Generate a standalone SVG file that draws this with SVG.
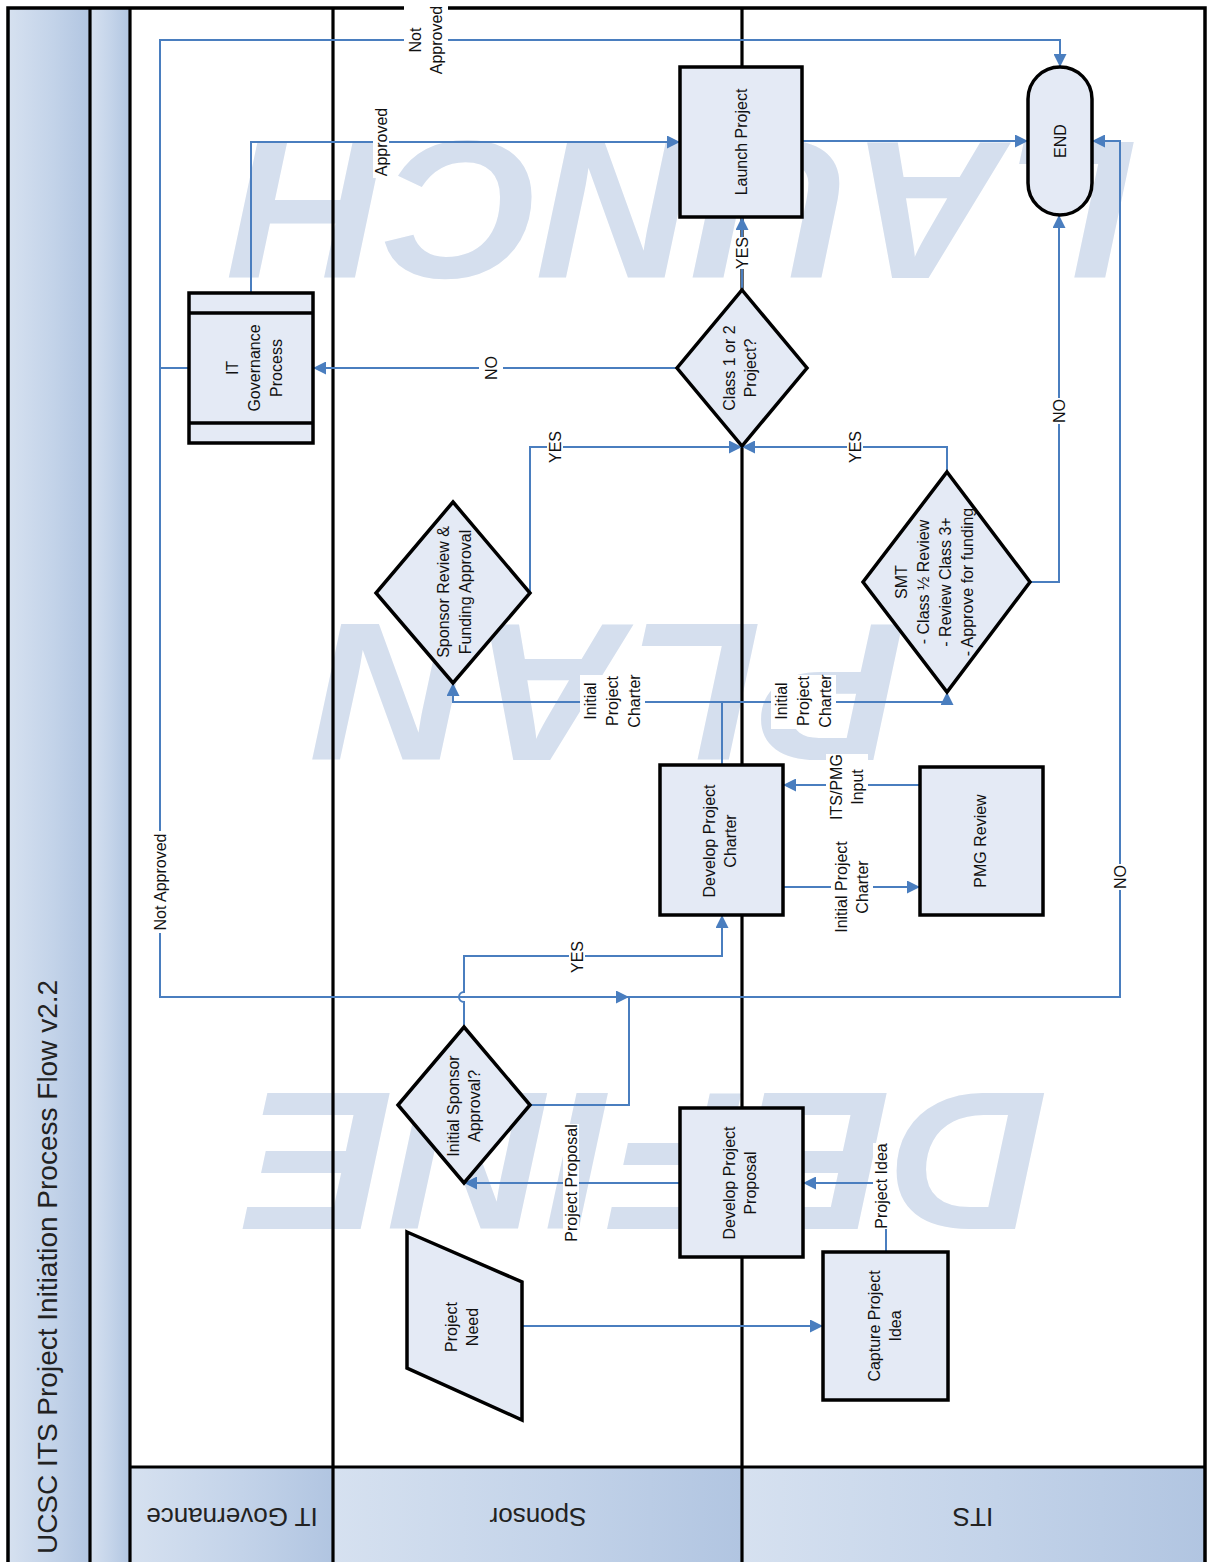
<svg xmlns="http://www.w3.org/2000/svg" width="1210" height="1562" viewBox="0 0 1210 1562">
<style>
.t{font-family:"Liberation Sans",Arial,sans-serif;font-size:16px;text-anchor:middle;fill:#111}
.lane{font-family:"Liberation Sans",Arial,sans-serif;font-size:26px;text-anchor:middle;fill:#222}
.title{font-family:"Liberation Sans",Arial,sans-serif;font-size:28px;text-anchor:middle;fill:#222}
.wm{font-family:"Liberation Sans",Arial,sans-serif;font-size:197px;font-weight:bold;font-style:italic;text-anchor:middle;fill:#d5dfee}
.node{fill:#e4eaf5;stroke:#000;stroke-width:3.5;stroke-linejoin:miter}
.frame{fill:none;stroke:#000;stroke-width:3.5}
.lline{stroke:#000;stroke-width:3.2;fill:none}
.conn{fill:none;stroke:#4a7ebf;stroke-width:2}
.bg{fill:#fff}
</style>
<defs>
<linearGradient id="gH" x1="0" y1="0" x2="1" y2="0">
<stop offset="0" stop-color="#d6e1f0"/>
<stop offset="0.55" stop-color="#c3d3e9"/>
<stop offset="1" stop-color="#b1c5e1"/>
</linearGradient>
<marker id="arr" markerUnits="userSpaceOnUse" markerWidth="14" markerHeight="13" refX="13" refY="6.5" orient="auto">
<path d="M0,0 L13,6.5 L0,13 z" fill="#4a7ebf"/>
</marker>
</defs>

<g id="background">
<rect x="0" y="0" width="1210" height="1562" fill="#fff"/>
<rect x="8" y="8" width="82" height="1554" fill="url(#gH)"/>
<rect x="90" y="8" width="40" height="1554" fill="url(#gH)"/>
<rect x="130" y="1467" width="203" height="95" fill="url(#gH)"/>
<rect x="333" y="1467" width="409" height="95" fill="url(#gH)"/>
<rect x="742" y="1467" width="463" height="95" fill="url(#gH)"/>
</g>

<g id="watermarks">
<text class="wm" transform="translate(685,142) rotate(180)" x="0" y="0" textLength="905" lengthAdjust="spacingAndGlyphs">LAUNCH</text>
<text class="wm" transform="translate(611,624) rotate(180)" x="0" y="0" textLength="590" lengthAdjust="spacingAndGlyphs">PLAN</text>
<text class="wm" transform="translate(648,1093) rotate(180)" x="0" y="0" textLength="800" lengthAdjust="spacingAndGlyphs">DEFINE</text>
</g>

<g id="lanes">
<rect class="frame" x="8" y="8" width="1197" height="1560"/>
<line class="lline" x1="90" y1="8" x2="90" y2="1562"/>
<line class="lline" x1="130" y1="8" x2="130" y2="1562"/>
<line class="lline" x1="333" y1="8" x2="333" y2="1562"/>
<line class="lline" x1="742" y1="8" x2="742" y2="1562"/>
<line class="lline" x1="130" y1="1467" x2="1205" y2="1467"/>
<text class="title" transform="translate(47,1267) rotate(-90)" x="0" y="10">UCSC ITS Project Initiation Process Flow v2.2</text>
<text class="lane" transform="translate(232,1517) rotate(180)" x="0" y="9">IT Governance</text>
<text class="lane" transform="translate(538,1517) rotate(180)" x="0" y="9">Sponsor</text>
<text class="lane" transform="translate(973,1517) rotate(180)" x="0" y="9">ITS</text>
</g>

<g id="connectors">
<path class="conn" d="M522,1326 H823" marker-end="url(#arr)"/>
<path class="conn" d="M886,1252 V1183 H803" marker-end="url(#arr)"/>
<path class="conn" d="M680,1183 H464" marker-end="url(#arr)"/>
<path class="conn" d="M464,1027 V1002 A5,5 0 0 1 464,992 V956 H722 V915" marker-end="url(#arr)"/>
<path class="conn" d="M530,1105 H629 V997 H1120 V141 H1092" marker-end="url(#arr)"/>
<path class="conn" d="M189,368 H160 V997 H629" marker-end="url(#arr)"/>
<path class="conn" d="M160,368 V40 H1060 V67" marker-end="url(#arr)"/>
<path class="conn" d="M251,293 V142 H680" marker-end="url(#arr)"/>
<path class="conn" d="M677,368 H313" marker-end="url(#arr)"/>
<path class="conn" d="M742,290 V217" marker-end="url(#arr)"/>
<path class="conn" d="M802,141 H1028" marker-end="url(#arr)"/>
<path class="conn" d="M722,765 V702 H453 V683" marker-end="url(#arr)"/>
<path class="conn" d="M722,702 H947 V692" marker-end="url(#arr)"/>
<path class="conn" d="M530,593 V447 H742" marker-end="url(#arr)"/>
<path class="conn" d="M947,472 V447 H742" marker-end="url(#arr)"/>
<path class="conn" d="M1030,582 H1059 V215" marker-end="url(#arr)"/>
<path class="conn" d="M783,887 H920" marker-end="url(#arr)"/>
<path class="conn" d="M920,785 H783" marker-end="url(#arr)"/>
</g>

<g id="connector-labels">
<rect class="bg" x="1112" y="864" width="16" height="26"/>
<text class="t" transform="translate(1120,877) rotate(-90)" x="0" y="5.7">NO</text>
<rect class="bg" x="152" y="831" width="16" height="102"/>
<text class="t" transform="translate(160,882) rotate(-90)" x="0" y="5.7">Not Approved</text>
<rect class="bg" x="404" y="5" width="44" height="71"/>
<text class="t" transform="translate(426,40) rotate(-90)"><tspan x="0" y="-4.8">Not</tspan><tspan x="0" y="16.2">Approved</tspan></text>
<rect class="bg" x="373" y="106" width="16" height="72"/>
<text class="t" transform="translate(381,142) rotate(-90)" x="0" y="5.7">Approved</text>
<rect class="bg" x="479" y="355" width="24" height="26"/>
<text class="t" transform="translate(491,368) rotate(-90)" x="0" y="5.7">NO</text>
<rect class="bg" x="734" y="237" width="16" height="32"/>
<text class="t" transform="translate(742,253) rotate(-90)" x="0" y="5.7">YES</text>
<rect class="bg" x="580" y="675" width="65" height="54"/>
<text class="t" transform="translate(612,701) rotate(-90)"><tspan x="0" y="-16.3">Initial</tspan><tspan x="0" y="5.7">Project</tspan><tspan x="0" y="27.7">Charter</tspan></text>
<rect class="bg" x="771" y="675" width="65" height="54"/>
<text class="t" transform="translate(803,701) rotate(-90)"><tspan x="0" y="-16.3">Initial</tspan><tspan x="0" y="5.7">Project</tspan><tspan x="0" y="27.7">Charter</tspan></text>
<rect class="bg" x="547" y="431" width="16" height="32"/>
<text class="t" transform="translate(555,447) rotate(-90)" x="0" y="5.7">YES</text>
<rect class="bg" x="847" y="431" width="16" height="32"/>
<text class="t" transform="translate(855,447) rotate(-90)" x="0" y="5.7">YES</text>
<rect class="bg" x="1051" y="398" width="16" height="26"/>
<text class="t" transform="translate(1059,411) rotate(-90)" x="0" y="5.7">NO</text>
<rect class="bg" x="569" y="941" width="16" height="32"/>
<text class="t" transform="translate(577,957) rotate(-90)" x="0" y="5.7">YES</text>
<rect class="bg" x="831" y="843" width="42" height="88"/>
<text class="t" transform="translate(852,887) rotate(-90)"><tspan x="0" y="-4.8">Initial Project</tspan><tspan x="0" y="16.2">Charter</tspan></text>
<rect class="bg" x="826" y="754" width="42" height="66"/>
<text class="t" transform="translate(847,787) rotate(-90)"><tspan x="0" y="-4.8">ITS/PMG</tspan><tspan x="0" y="16.2">Input</tspan></text>
<rect class="bg" x="563" y="1124" width="16" height="118"/>
<text class="t" transform="translate(571,1183) rotate(-90)" x="0" y="5.7">Project Proposal</text>
<rect class="bg" x="873" y="1143" width="16" height="86"/>
<text class="t" transform="translate(881,1186) rotate(-90)" x="0" y="5.7">Project Idea</text>
</g>

<g id="node-launch">
<rect class="node" x="680" y="67" width="122" height="150"/>
<text class="t" transform="translate(741,142) rotate(-90)" x="0" y="5.7">Launch Project</text>
</g>
<g id="node-end">
<rect class="node" x="1028" y="67" width="64" height="148" rx="32" ry="32"/>
<text class="t" transform="translate(1060,141) rotate(-90)" x="0" y="5.7">END</text>
</g>
<g id="node-class">
<polygon class="node" points="742,290 807,368 742,446 677,368"/>
<text class="t" transform="translate(740,368) rotate(-90)"><tspan x="0" y="-4.8">Class 1 or 2</tspan><tspan x="0" y="16.2">Project?</tspan></text>
</g>
<g id="node-itgov">
<rect class="node" x="189" y="293" width="124" height="150"/>
<line x1="189" y1="313" x2="313" y2="313" stroke="#000" stroke-width="3.5"/>
<line x1="189" y1="423" x2="313" y2="423" stroke="#000" stroke-width="3.5"/>
<text class="t" transform="translate(254,368) rotate(-90)"><tspan x="0" y="-16.3">IT</tspan><tspan x="0" y="5.7">Governance</tspan><tspan x="0" y="28.2">Process</tspan></text>
</g>
<g id="node-sponsor-review">
<polygon class="node" points="453,502 530,593 453,683 376,593"/>
<text class="t" transform="translate(454,592) rotate(-90)"><tspan x="0" y="-5.3">Sponsor Review &amp;</tspan><tspan x="0" y="16.7">Funding Approval</tspan></text>
</g>
<g id="node-smt">
<polygon class="node" points="947,472 1030,582 947,692 863,582"/>
<text class="t" transform="translate(934,582) rotate(-90)"><tspan x="0" y="-27.5">SMT</tspan><tspan x="0" y="-5.5">- Class ½ Review</tspan><tspan x="0" y="16.5">- Review Class 3+</tspan><tspan x="0" y="38.5">- Approve for funding</tspan></text>
</g>
<g id="node-charter">
<rect class="node" x="660" y="765" width="123" height="150"/>
<text class="t" transform="translate(720,841) rotate(-90)"><tspan x="0" y="-4.8">Develop Project</tspan><tspan x="0" y="16.2">Charter</tspan></text>
</g>
<g id="node-pmg">
<rect class="node" x="920" y="767" width="123" height="148"/>
<text class="t" transform="translate(980,841) rotate(-90)" x="0" y="5.7">PMG Review</text>
</g>
<g id="node-initial-sponsor">
<polygon class="node" points="464,1027 530,1105 464,1183 398,1105"/>
<text class="t" transform="translate(464,1106) rotate(-90)"><tspan x="0" y="-4.8">Initial Sponsor</tspan><tspan x="0" y="16.2">Approval?</tspan></text>
</g>
<g id="node-proposal">
<rect class="node" x="680" y="1108" width="123" height="149"/>
<text class="t" transform="translate(740,1183) rotate(-90)"><tspan x="0" y="-4.8">Develop Project</tspan><tspan x="0" y="16.2">Proposal</tspan></text>
</g>
<g id="node-capture">
<rect class="node" x="823" y="1252" width="125" height="148"/>
<text class="t" transform="translate(885,1326) rotate(-90)"><tspan x="0" y="-4.8">Capture Project</tspan><tspan x="0" y="16.2">Idea</tspan></text>
</g>
<g id="node-need">
<polygon class="node" points="407,1232 522,1282 522,1420 407,1368"/>
<text class="t" transform="translate(462,1327) rotate(-90)"><tspan x="0" y="-4.8">Project</tspan><tspan x="0" y="16.2">Need</tspan></text>
</g>
</svg>
